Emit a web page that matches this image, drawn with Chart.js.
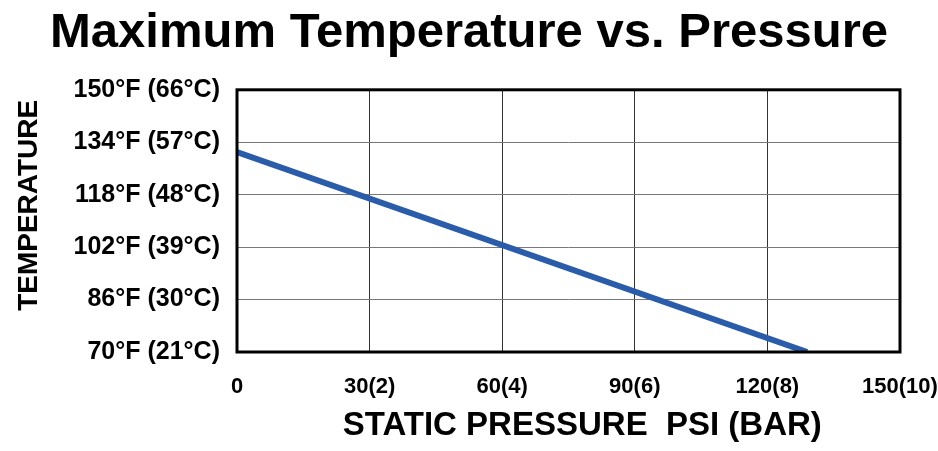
<!DOCTYPE html>
<html>
<head>
<meta charset="utf-8">
<script src="https://cdn.jsdelivr.net/npm/chart.js@4/dist/chart.umd.min.js"></script>
<style>
  html, body { margin: 0; padding: 0; background: #fff; }
  #wrap { width: 938px; height: 451px; }
</style>
</head>
<body>
<div id="wrap"><canvas id="myChart" width="938" height="451"></canvas></div>
<script>
var pressure = [0, 129];
var temperature = [131, 70];

var xTicks = [0, 30, 60, 90, 120, 150];
var xTickLabels = ['0', '30(2)', '60(4)', '90(6)', '120(8)', '150(10)'];
var yTicks = [70, 86, 102, 118, 134, 150];
var yTickLabels = ['70°F (21°C)', '86°F (30°C)', '102°F (39°C)', '118°F (48°C)', '134°F (57°C)', '150°F (66°C)'];

var sans = "'Liberation Sans', Arial, sans-serif";

var points = pressure.map(function(p, i) {
  return { x: p, y: temperature[i] };
});

// thick black frame round the plot area
var boxBorder = {
  id: 'boxBorder',
  afterDatasetsDraw: function(chart) {
    var a = chart.chartArea, c = chart.ctx;
    c.save();
    c.strokeStyle = '#000';
    c.lineWidth = 3;
    c.strokeRect(a.left, a.top, a.right - a.left, a.bottom - a.top);
    c.restore();
  }
};

var ctx = document.getElementById('myChart').getContext('2d');

var myChart = new Chart(ctx, {
  type: 'line',
  data: {
    datasets: [{
      label: 'Max temperature',
      data: points,
      borderColor: '#2a5caa',
      borderWidth: 6,
      pointRadius: 0,
      fill: false,
      tension: 0
    }]
  },
  options: {
    responsive: false,
    animation: false,
    layout: { padding: 0 },
    plugins: {
      legend: { display: false },
      tooltip: { enabled: false },
      title: {
        display: true,
        text: 'Maximum Temperature vs. Pressure',
        color: '#000',
        font: { family: sans, size: 49, weight: 'bold' },
        padding: { top: 4, bottom: 27 }
      }
    },
    scales: {
      x: {
        type: 'linear',
        min: 0,
        max: 150,
        afterBuildTicks: function(scale) {
          scale.ticks = xTicks.map(function(v) { return { value: v }; });
        },
        afterFit: function(scale) {
          scale.height = 99;
          scale.paddingLeft = 0;
          scale.paddingRight = 38;
        },
        ticks: {
          color: '#000',
          font: { family: sans, size: 22, weight: 'bold' },
          padding: 22,
          maxRotation: 0,
          autoSkip: false,
          callback: function(v) { return xTickLabels[xTicks.indexOf(v)]; }
        },
        grid: { color: '#333', lineWidth: 1, drawTicks: false },
        border: { display: false },
        title: {
          display: true,
          text: '\u00a0\u00a0\u00a0STATIC PRESSURE  PSI (BAR)',
          color: '#000',
          font: { family: sans, size: 33, weight: 'bold' },
          padding: { top: 0, bottom: 5 }
        }
      },
      y: {
        type: 'linear',
        min: 70,
        max: 150,
        afterBuildTicks: function(scale) {
          scale.ticks = yTicks.map(function(v) { return { value: v }; });
        },
        afterFit: function(scale) { scale.width = 237; },
        ticks: {
          color: '#000',
          font: { family: sans, size: 25, weight: 'bold' },
          padding: 17,
          autoSkip: false,
          callback: function(v) { return yTickLabels[yTicks.indexOf(v)]; }
        },
        grid: { color: '#777', lineWidth: 1, drawTicks: false },
        border: { display: false },
        title: {
          display: true,
          text: '\u00a0\u00a0\u00a0\u00a0TEMPERATURE',
          color: '#000',
          font: { family: sans, size: 28, weight: 'bold' },
          padding: { top: 12, bottom: 0 }
        }
      }
    }
  },
  plugins: [boxBorder]
});
</script>
</body>
</html>
